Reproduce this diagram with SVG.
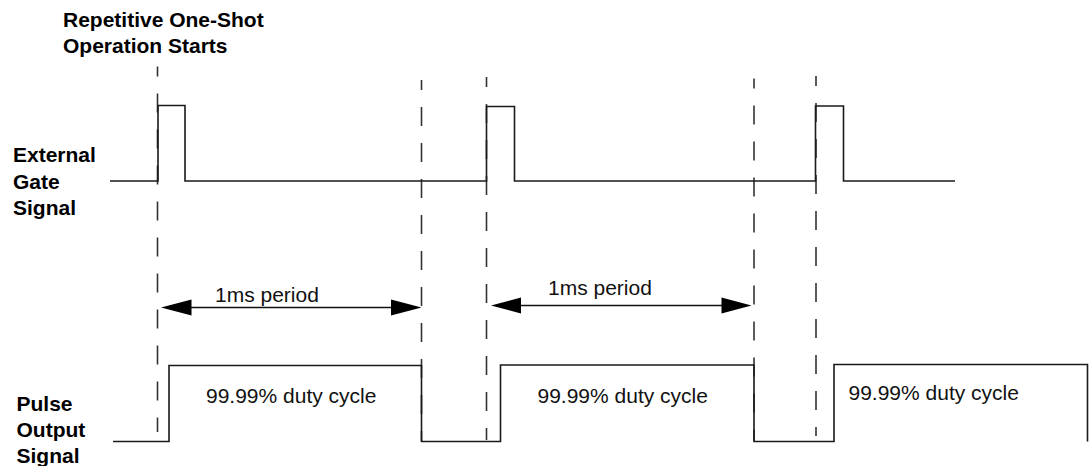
<svg xmlns="http://www.w3.org/2000/svg" width="1089" height="466" viewBox="0 0 1089 466">
<style>
.lbl{font-family:"Liberation Sans",Arial,sans-serif;font-size:21px;font-weight:bold;fill:#000}
.txt{font-family:"Liberation Sans",Arial,sans-serif;font-size:21px;fill:#111}
.wave{fill:none;stroke:#1a1a1a;stroke-width:1.6}
.dash{fill:none;stroke:#333;stroke-width:1.6;stroke-dasharray:19 17;stroke-dashoffset:9}
.dim{fill:none;stroke:#111;stroke-width:1.4}
.head{fill:#000}
</style>
<rect width="1089" height="466" fill="#fff"/>
<g id="title">
<text class="lbl" x="63" y="27">Repetitive One-Shot</text>
<text class="lbl" x="63" y="53">Operation Starts</text>
</g>
<g id="gate-label">
<text class="lbl" x="13" y="162">External</text>
<text class="lbl" x="13" y="188.5">Gate</text>
<text class="lbl" x="13" y="215">Signal</text>
</g>
<g id="output-label">
<text class="lbl" x="16.5" y="410.5">Pulse</text>
<text class="lbl" x="16.5" y="436.5">Output</text>
<text class="lbl" x="16.5" y="462.5">Signal</text>
</g>
<g id="connectors">
<line class="dash" x1="157.5" y1="66.5" x2="157.5" y2="432"/>
<line class="dash" x1="421.5" y1="80" x2="421.5" y2="441"/>
<line class="dash" x1="486.5" y1="77" x2="486.5" y2="440"/>
<line class="dash" x1="754" y1="78.5" x2="754" y2="441"/>
<line class="dash" x1="816" y1="76" x2="816" y2="436"/>
</g>
<g id="gate-signal">
<path class="wave" d="M110,181 H158 V105.5 H185 V181 H486.5 V106.5 H514.5 V181 H815.5 V106 H843.5 V181 H955"/>
</g>
<g id="output-signal">
<path class="wave" d="M113,441.5 H169 V365.5 H421.5 V441.5 H500.5 V365 H754 V441.5 H834 V364.5 H1087.5 V441.5"/>
</g>
<g id="period-1">
<line class="dim" x1="185" y1="307.5" x2="397" y2="307.5"/>
<polygon class="head" points="161,307.5 191.5,299.5 191.5,315.5"/>
<polygon class="head" points="421.5,307.5 391,299.5 391,315.5"/>
<text class="txt" x="215" y="301.5">1ms period</text>
</g>
<g id="period-2">
<line class="dim" x1="515" y1="305.5" x2="727" y2="305.5"/>
<polygon class="head" points="491,305.5 521,297.5 521,313.5"/>
<polygon class="head" points="751.5,305.5 721.5,297.5 721.5,313.5"/>
<text class="txt" x="548" y="294.5">1ms period</text>
</g>
<g id="duty-1"><text class="txt" x="206" y="403">99.99% duty cycle</text></g>
<g id="duty-2"><text class="txt" x="537.5" y="402.5">99.99% duty cycle</text></g>
<g id="duty-3"><text class="txt" x="848.5" y="400">99.99% duty cycle</text></g>
</svg>
